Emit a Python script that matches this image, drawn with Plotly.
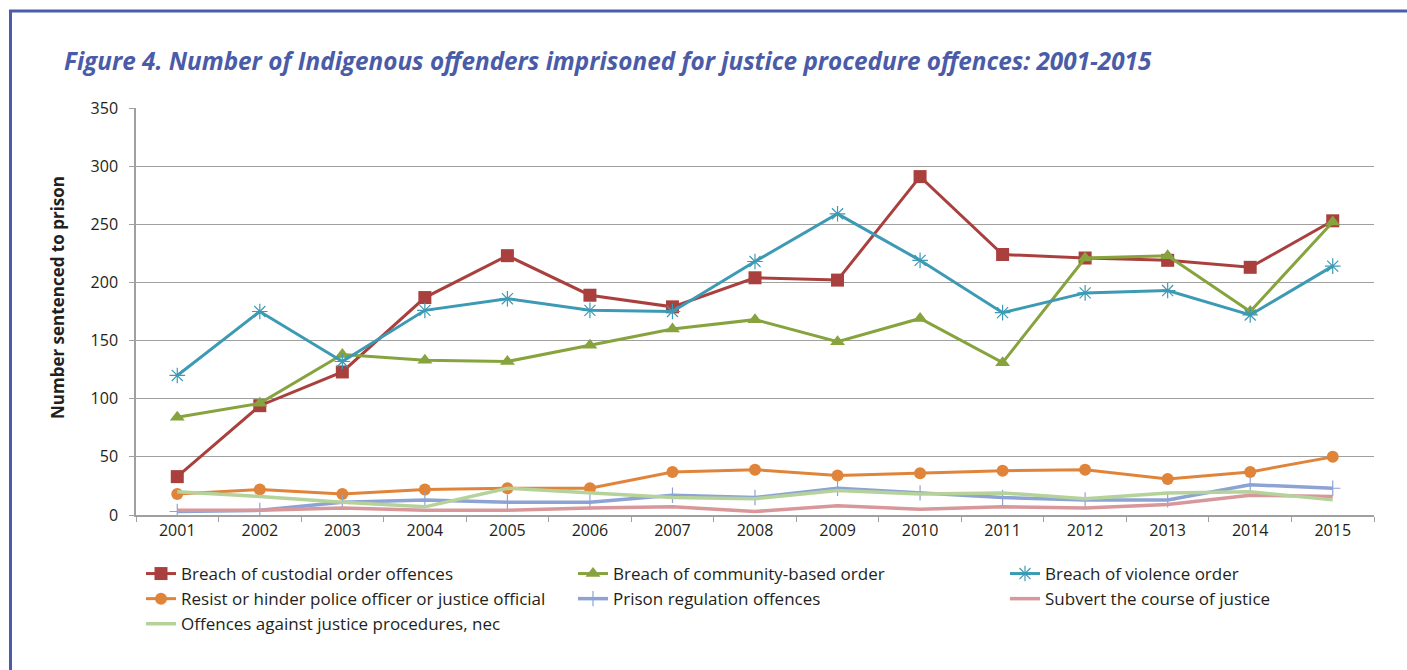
import plotly.graph_objects as go

# Calendar years on the category axis
years = [str(y) for y in range(2001, 2016)]

# Number of Indigenous offenders sentenced to prison, by offence type
breach_custodial = [33, 94, 123, 187, 223, 189, 179, 204, 202, 291, 224, 221, 219, 213, 253]
breach_community = [84, 96, 138, 133, 132, 146, 160, 168, 149, 169, 131, 221, 223, 175, 252]
breach_violence = [120, 175, 132, 176, 186, 176, 175, 218, 259, 219, 174, 191, 193, 172, 214]
resist_hinder = [18, 22, 18, 22, 23, 23, 37, 39, 34, 36, 38, 39, 31, 37, 50]
prison_regulation = [3, 4, 11, 13, 11, 11, 17, 15, 23, 19, 15, 13, 13, 26, 23]
subvert_justice = [4, 4, 6, 4, 4, 6, 7, 3, 8, 5, 7, 6, 9, 17, 16]
justice_nec = [20, 16, 11, 7, 23, 19, 15, 14, 21, 18, 19, 14, 19, 20, 13]

# name, values, colour, marker, line width, legend column
series = [
    ("Breach of custodial order offences", breach_custodial, "#A9403E",
     dict(symbol="square", size=13, color="#A9403E"), 3, "legend"),
    ("Breach of community-based order", breach_community, "#86A33E",
     dict(symbol="triangle-up", size=13, color="#86A33E"), 3, "legend2"),
    ("Breach of violence order", breach_violence, "#3D9AB4",
     dict(symbol="asterisk-open", size=13, color="#3D9AB4",
          line=dict(color="#3D9AB4", width=1.2)), 3, "legend3"),
    ("Resist or hinder police officer or justice official", resist_hinder, "#E0843A",
     dict(symbol="circle", size=12, color="#E0843A"), 3, "legend"),
    ("Prison regulation offences", prison_regulation, "#8DA3D4",
     dict(symbol="cross-thin-open", size=11, color="#8DA3D4",
          line=dict(color="#8DA3D4", width=1.2)), 3.5, "legend2"),
    ("Subvert the course of justice", subvert_justice, "#D8979A", None, 3.5, "legend3"),
    ("Offences against justice procedures, nec", justice_nec, "#B5D29A", None, 3.5, "legend"),
]

fig = go.Figure()
for name, values, colour, marker, width, leg in series:
    fig.add_trace(go.Scatter(
        x=years, y=values, name=name,
        mode="lines+markers" if marker else "lines",
        line=dict(color=colour, width=width),
        marker=marker, legend=leg,
    ))

W, H = 1407, 670
L, R, T, B = 136, 33, 108, 155
pw, ph = W - L - R, H - T - B


def px_x(x):
    return (x - L) / pw


def px_y(y):
    return (H - B - y) / ph


frame_colour = "#4B5DAA"
fig.add_shape(type="line", xref="paper", yref="paper",
              x0=px_x(9), x1=px_x(W + 5), y0=px_y(11), y1=px_y(11),
              line=dict(color=frame_colour, width=3))
fig.add_shape(type="line", xref="paper", yref="paper",
              x0=px_x(10.5), x1=px_x(10.5), y0=px_y(10), y1=px_y(H + 5),
              line=dict(color=frame_colour, width=3))

fig.add_annotation(
    text="<b><i>Figure 4. Number of Indigenous offenders imprisoned for justice procedure offences: 2001-2015</i></b>",
    xref="paper", yref="paper", x=px_x(62), y=px_y(61),
    xanchor="left", yanchor="middle", showarrow=False,
    font=dict(family="Open Sans", size=24.3, color="#4A5BA8"),
)
fig.add_annotation(
    text="<b>Number sentenced to prison</b>",
    xref="paper", yref="paper", x=px_x(57), y=px_y(298),
    xanchor="center", yanchor="middle", textangle=-90, showarrow=False,
    font=dict(family="Open Sans", size=17, color="#231F20"),
)

legend_font = dict(family="Open Sans", size=17, color="#231F20")
legend_common = dict(orientation="v", yanchor="top", xanchor="left",
                     font=legend_font, itemclick=False, bgcolor="rgba(0,0,0,0)",
                     borderwidth=0, traceorder="normal")

fig.update_layout(
    width=W, height=H,
    margin=dict(l=L, r=R, t=T, b=B, pad=0),
    paper_bgcolor="white", plot_bgcolor="white",
    font=dict(family="Open Sans", size=16, color="#231F20"),
    showlegend=True,
    legend=dict(x=px_x(141), y=px_y(556), **legend_common),
    legend2=dict(x=px_x(573), y=px_y(556), **legend_common),
    legend3=dict(x=px_x(1005), y=px_y(556), **legend_common),
)

fig.update_xaxes(
    type="category", range=[-0.5, 14.5],
    showgrid=False, showline=True, linecolor="#A0A0A0", linewidth=1.5,
    ticks="outside", tickson="boundaries", ticklen=5, tickcolor="#A0A0A0",
    tickfont=dict(family="Open Sans", size=16, color="#231F20"),
)
fig.update_yaxes(
    range=[0, 350], tickvals=[0, 50, 100, 150, 200, 250, 300, 350],
    showgrid=True, gridcolor="#A0A0A0", gridwidth=1.3,
    showline=True, linecolor="#A0A0A0", linewidth=1.5,
    ticks="outside", ticklen=5, tickcolor="#A0A0A0",
    ticklabelstandoff=8, zeroline=False,
    tickfont=dict(family="Open Sans", size=16, color="#231F20"),
)

fig.write_html("out.html")
